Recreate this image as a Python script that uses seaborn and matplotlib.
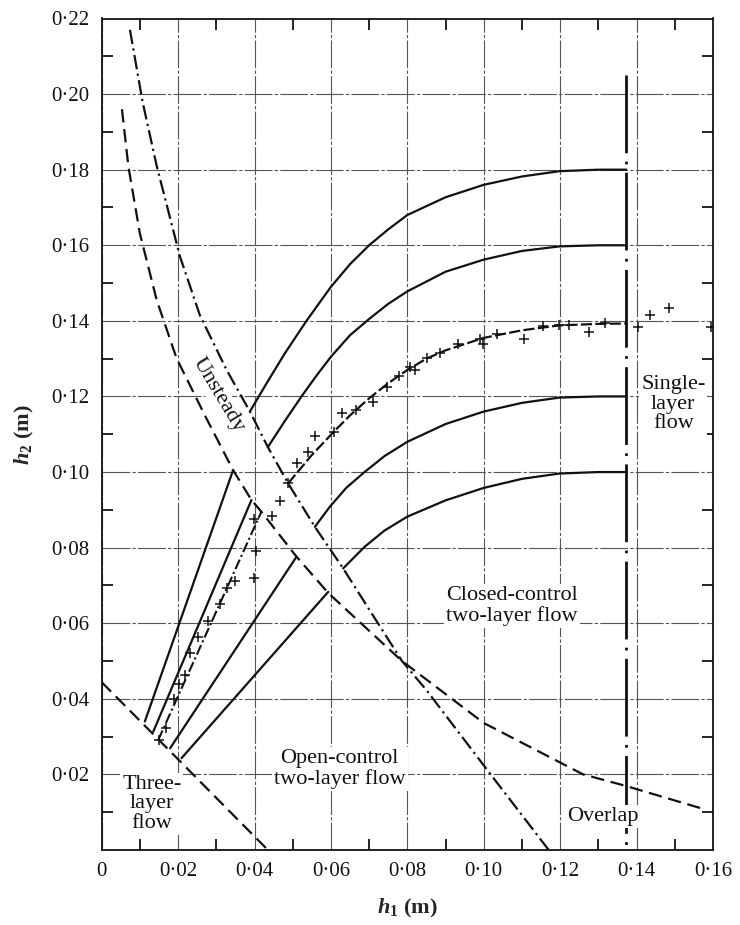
import matplotlib
matplotlib.use("Agg")
import matplotlib.pyplot as plt
import numpy as np
import seaborn as sns

# upper boundary of the unsteady band (dash-dot)
unsteady_h1 = [0.0074, 0.0107, 0.0144, 0.0205, 0.0257, 0.0327, 0.0388, 0.0435, 0.0488,
               0.0558, 0.0632, 0.0701, 0.0786, 0.0850, 0.1015, 0.1170]
unsteady_h2 = [0.217, 0.198, 0.181, 0.157, 0.1415, 0.127, 0.116, 0.1066, 0.097,
               0.0855, 0.0745, 0.0635, 0.0500, 0.0423, 0.0204, 0.0]

# lower boundary of the unsteady band (dashed)
lower_h1 = [0.0053, 0.0070, 0.0100, 0.0144, 0.0196, 0.0270, 0.0344, 0.0392, 0.0418,
            0.0510, 0.0593, 0.0700, 0.0786, 0.1000, 0.1260, 0.1370, 0.1570]
lower_h2 = [0.196, 0.1808, 0.1631, 0.1455, 0.1301, 0.1150, 0.1005, 0.0926, 0.0895,
            0.0776, 0.0680, 0.0580, 0.0500, 0.0336, 0.0200, 0.0170, 0.0110]

# three-layer boundary (dashed)
three_h1 = [0.0, 0.0435]
three_h2 = [0.0444, 0.0]

# overlap boundary (vertical dash-dot)
overlap_h1 = [0.1373, 0.1373]
overlap_h2 = [0.205, 0.0]

# open-control straight branches
open_lines = [
    ([0.0113, 0.0344], [0.0340, 0.1005]),
    ([0.0135, 0.0392], [0.0313, 0.0926]),
    ([0.0179, 0.0510], [0.0269, 0.0776]),
    ([0.0209, 0.0593], [0.0243, 0.0683]),
]
measured_open_h1 = [0.0148, 0.0418]
measured_open_h2 = [0.0291, 0.0895]

# closed-control curved branches
closed_curves = [
    ([0.0388, 0.0430, 0.0480, 0.0536, 0.0600, 0.0650, 0.0700, 0.0750, 0.0800, 0.0900,
      0.1000, 0.1100, 0.1198, 0.1300, 0.1373],
     [0.1160, 0.1232, 0.1315, 0.1400, 0.1490, 0.1550, 0.1600, 0.1642, 0.1680, 0.1727,
      0.1760, 0.1782, 0.1796, 0.1800, 0.1800]),
    ([0.0435, 0.0480, 0.0523, 0.0560, 0.0600, 0.0650, 0.0700, 0.0750, 0.0800, 0.0900,
      0.1000, 0.1100, 0.1198, 0.1300, 0.1373],
     [0.1066, 0.1136, 0.1200, 0.1252, 0.1305, 0.1362, 0.1405, 0.1445, 0.1478, 0.1530,
      0.1562, 0.1585, 0.1597, 0.1600, 0.1600]),
    ([0.0558, 0.0597, 0.0640, 0.0688, 0.0740, 0.0800, 0.0900, 0.1000, 0.1100, 0.1198,
      0.1300, 0.1373],
     [0.0855, 0.0908, 0.0958, 0.1000, 0.1042, 0.1080, 0.1127, 0.1160, 0.1183, 0.1197,
      0.1200, 0.1200]),
    ([0.0632, 0.0688, 0.0740, 0.0800, 0.0900, 0.1000, 0.1100, 0.1198, 0.1300, 0.1373],
     [0.0745, 0.0802, 0.0845, 0.0882, 0.0925, 0.0958, 0.0982, 0.0996, 0.1000, 0.1000]),
]
measured_closed_h1 = [0.0488, 0.0550, 0.0606, 0.0650, 0.0700, 0.0750, 0.0800, 0.0850,
                      0.0900, 0.1000, 0.1100, 0.1198, 0.1300, 0.1373]
measured_closed_h2 = [0.0970, 0.1045, 0.1105, 0.1150, 0.1195, 0.1235, 0.1270, 0.1300,
                      0.1322, 0.1355, 0.1375, 0.1388, 0.1392, 0.1393]

# experimental points
obs_h1 = [0.0151, 0.0168, 0.0190, 0.0203, 0.0218, 0.0231, 0.0253, 0.0279, 0.0309, 0.0327,
          0.0350, 0.0398, 0.0405, 0.0398, 0.0447, 0.0468, 0.0488, 0.0510, 0.0541, 0.0558,
          0.0607, 0.0630, 0.0665, 0.0710, 0.0747, 0.0778, 0.0806, 0.0819, 0.0851, 0.0886,
          0.0932, 0.0989, 0.0998, 0.1035, 0.1105, 0.1156, 0.1196, 0.1224, 0.1275, 0.1318,
          0.1405, 0.1436, 0.1486, 0.1595]
obs_h2 = [0.0291, 0.0322, 0.0399, 0.0439, 0.0463, 0.0520, 0.0563, 0.0606, 0.0651, 0.0694,
          0.0711, 0.0720, 0.0792, 0.0875, 0.0884, 0.0923, 0.0970, 0.1025, 0.1054, 0.1095,
          0.1105, 0.1155, 0.1164, 0.1184, 0.1224, 0.1254, 0.1277, 0.1271, 0.1303, 0.1314,
          0.1340, 0.1351, 0.1340, 0.1364, 0.1352, 0.1386, 0.1390, 0.1390, 0.1371, 0.1395,
          0.1383, 0.1415, 0.1433, 0.1384]

xtick_vals = [0.0, 0.02, 0.04, 0.06, 0.08, 0.10, 0.12, 0.14, 0.16]
xtick_labels = ["0", "0·02", "0·04", "0·06", "0·08", "0·10", "0·12", "0·14", "0·16"]
ytick_vals = [0.0, 0.02, 0.04, 0.06, 0.08, 0.10, 0.12, 0.14, 0.16, 0.18, 0.20, 0.22]
ytick_labels = ["", "0·02", "0·04", "0·06", "0·08", "0·10", "0·12", "0·14", "0·16",
                "0·18", "0·20", "0·22"]

sns.set_style("ticks")
plt.rcParams["font.family"] = ["Liberation Serif", "DejaVu Serif"]
plt.rcParams["mathtext.fontset"] = "custom"
plt.rcParams["mathtext.rm"] = "Liberation Serif"
plt.rcParams["mathtext.it"] = "Liberation Serif:italic"
plt.rcParams["mathtext.bf"] = "Liberation Serif:bold"
plt.rcParams["mathtext.bfit"] = "Liberation Serif:bold:italic"

fig = plt.figure(figsize=(7.4, 9.25), dpi=100)
ax = fig.add_axes([0.1374, 0.0811, 0.8261, 0.8989])

ink = "#111111"
dashdot = (0, (6.5, 2, 1, 2))
dashed = (0, (6, 3))

sns.lineplot(x=unsteady_h1, y=unsteady_h2, sort=False, estimator=None, ax=ax,
             color=ink, lw=1.6, linestyle=dashdot)
sns.lineplot(x=lower_h1, y=lower_h2, sort=False, estimator=None, ax=ax,
             color=ink, lw=1.6, linestyle=dashed)
sns.lineplot(x=three_h1, y=three_h2, sort=False, estimator=None, ax=ax,
             color=ink, lw=1.6, linestyle=dashed)
sns.lineplot(x=overlap_h1, y=overlap_h2, sort=False, estimator=None, ax=ax,
             color=ink, lw=2.0, linestyle=(0, (28, 3, 1, 3)))

for xs, ys in open_lines:
    sns.lineplot(x=xs, y=ys, sort=False, estimator=None, ax=ax, color=ink, lw=1.6)
for xs, ys in closed_curves:
    sns.lineplot(x=xs, y=ys, sort=False, estimator=None, ax=ax, color=ink, lw=1.6)

sns.lineplot(x=measured_open_h1, y=measured_open_h2, sort=False, estimator=None, ax=ax,
             color=ink, lw=1.5, linestyle=(0, (5, 1.5, 1, 1.5)))
sns.lineplot(x=measured_closed_h1, y=measured_closed_h2, sort=False, estimator=None, ax=ax,
             color=ink, lw=1.6, linestyle=(0, (5, 1.5)))

sns.scatterplot(x=obs_h1, y=obs_h2, marker="+", s=45, color=ink, linewidth=1.1, ax=ax,
                zorder=5)

ax.set_xlim(0, 0.16)
ax.set_ylim(0, 0.22)
ax.set_xticks(xtick_vals)
ax.set_xticklabels(xtick_labels)
ax.set_yticks(ytick_vals)
ax.set_yticklabels(ytick_labels)
ax.set_xticks(np.arange(0.01, 0.16, 0.02), minor=True)
ax.set_yticks(np.arange(0.01, 0.22, 0.02), minor=True)
ax.tick_params(which="major", length=0, pad=9, labelsize=15, colors=ink)
ax.tick_params(which="minor", direction="in", length=8, width=1.3, color=ink,
               top=True, right=True)
ax.grid(True, which="major", color="#555555", lw=0.8, linestyle=(0, (25, 2, 3, 2)))
ax.set_axisbelow(True)
for sp in ax.spines.values():
    sp.set_linewidth(1.3)
    sp.set_color(ink)

ax.set_xlabel(r"$\mathbfit{h}_\mathbf{1}$ (m)", fontsize=16, fontweight="bold", labelpad=11)
ax.set_ylabel(r"$\mathbfit{h}_\mathbf{2}$ (m)", fontsize=16, fontweight="bold", labelpad=11)

box = dict(facecolor="white", edgecolor="none", pad=1.5)
ax.text(0.0304, 0.1204, "Unsteady", rotation=-59, rotation_mode="anchor",
        ha="center", va="center", fontsize=16, color=ink, bbox=box)
ax.text(0.1496, 0.118, "Single-\nlayer\nflow", ha="center", va="center",
        fontsize=16, linespacing=1.05, color=ink, bbox=box)
ax.text(0.1073, 0.0646, "Closed-control\ntwo-layer flow", ha="center", va="center",
        fontsize=16, linespacing=1.1, color=ink, bbox=box)
ax.text(0.0623, 0.0214, "Open-control\ntwo-layer flow", ha="center", va="center",
        fontsize=16, linespacing=1.1, color=ink, bbox=box)
ax.text(0.0131, 0.0122, "Three-\nlayer\nflow", ha="center", va="center",
        fontsize=16, linespacing=1.05, color=ink, bbox=box)
ax.text(0.1311, 0.0088, "Overlap", ha="center", va="center",
        fontsize=16, color=ink, bbox=box)

fig.savefig("out.png", dpi=100)
